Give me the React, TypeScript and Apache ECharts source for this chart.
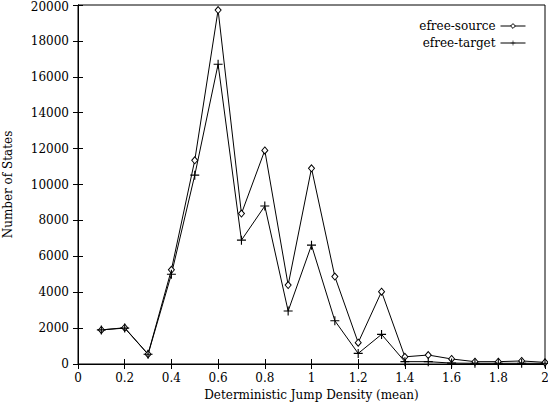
import React, { useEffect, useRef } from "react";
import * as echarts from "echarts";

const xValues = [0.1, 0.2, 0.3, 0.4, 0.5, 0.6, 0.7, 0.8, 0.9, 1.0, 1.1, 1.2, 1.3, 1.4, 1.5, 1.6, 1.7, 1.8, 1.9, 2.0];
const sourceValues = [1900, 2020, 550, 5250, 11350, 19720, 8380, 11900, 4400, 10900, 4870, 1190, 4030, 400, 500, 280, 130, 130, 170, 90];
const targetValues = [1900, 2000, 540, 5000, 10520, 16700, 6900, 8800, 2950, 6620, 2410, 590, 1650, 130, 130, 50, 40, 40, 40, 40];
const seriesNames = ["efree-source", "efree-target"];
const xTitle = "Deterministic Jump Density (mean)";
const yTitle = "Number of States";

const FONT = "DejaVu Serif";
const PLUS = "path://M3.5,0h1v3.5h3.5v1h-3.5v3.5h-1v-3.5h-3.5v-1h3.5z";

export default function App() {
  const ref = useRef<HTMLDivElement>(null);
  useEffect(() => {
    const chart = echarts.init(ref.current!, null, { renderer: "svg" });
    const pair = (ys: number[]) => xValues.map((x, i) => [x, ys[i]]);
    const tickCommon = { show: true, inside: true, length: 5, lineStyle: { color: "#000", width: 1 } };
    chart.setOption({
      animation: false,
      backgroundColor: "#fff",
      textStyle: { fontFamily: FONT, color: "#000" },
      grid: {
        left: 78,
        right: 3,
        top: 5,
        bottom: 38,
        show: true,
        borderColor: "#000",
        borderWidth: 1,
        containLabel: false,
        outerBoundsMode: "none",
      },
      legend: {
        right: 17,
        top: 15,
        orient: "vertical",
        align: "right",
        itemWidth: 25,
        itemHeight: 6,
        itemGap: 5,
        textStyle: { fontFamily: FONT, fontSize: 12, color: "#000" },
        lineStyle: { width: 1 },
        data: [
          { name: seriesNames[0], itemStyle: { color: "#fff", borderColor: "#000", borderWidth: 1 } },
          { name: seriesNames[1], itemStyle: { color: "#000", borderWidth: 0 } },
        ],
      },
      xAxis: [
        {
          type: "value",
          min: 0,
          max: 2,
          interval: 0.2,
          position: "bottom",
          axisLine: { show: true, lineStyle: { color: "#000" } },
          axisTick: tickCommon,
          splitLine: { show: false },
          axisLabel: { color: "#000", fontFamily: FONT, fontSize: 12, margin: 8 },
          name: xTitle,
          nameLocation: "middle",
          nameGap: 23,
          nameTextStyle: { color: "#000", fontFamily: FONT, fontSize: 12 },
        },
        {
          type: "value",
          min: 0,
          max: 2,
          interval: 0.2,
          position: "top",
          axisLine: { show: true, lineStyle: { color: "#000" } },
          axisTick: tickCommon,
          splitLine: { show: false },
          axisLabel: { show: false },
        },
      ],
      yAxis: [
        {
          type: "value",
          min: 0,
          max: 20000,
          interval: 2000,
          position: "left",
          axisLine: { show: true, lineStyle: { color: "#000" } },
          axisTick: tickCommon,
          splitLine: { show: false },
          axisLabel: {
            color: "#000",
            fontFamily: FONT,
            fontSize: 12,
            margin: 9,
            formatter: (v: number) => (v === 20000 ? "{top|" + v + "}" : String(v)),
            rich: { top: { fontFamily: FONT, fontSize: 12, color: "#000", padding: [3, 0, 0, 0] } },
          },
          name: yTitle,
          nameLocation: "middle",
          nameGap: 64,
          nameTextStyle: { color: "#000", fontFamily: FONT, fontSize: 12 },
        },
        {
          type: "value",
          min: 0,
          max: 20000,
          interval: 2000,
          position: "right",
          axisLine: { show: true, lineStyle: { color: "#000" } },
          axisTick: tickCommon,
          splitLine: { show: false },
          axisLabel: { show: false },
        },
      ],
      series: [
        {
          name: seriesNames[0],
          type: "line",
          data: pair(sourceValues),
          symbol: "diamond",
          symbolSize: [6, 7],
          showAllSymbol: true,
          lineStyle: { color: "#000", width: 1 },
          itemStyle: { color: "#fff", borderColor: "#000", borderWidth: 1 },
        },
        {
          name: seriesNames[1],
          type: "line",
          data: pair(targetValues),
          symbol: PLUS,
          symbolSize: 9,
          showAllSymbol: true,
          lineStyle: { color: "#000", width: 1 },
          itemStyle: { color: "#000", borderWidth: 0 },
        },
      ],
    });
    return () => chart.dispose();
  }, []);
  return <div ref={ref} style={{ width: 548, height: 402, position: "fixed", left: 0, top: 0 }} />;
}
